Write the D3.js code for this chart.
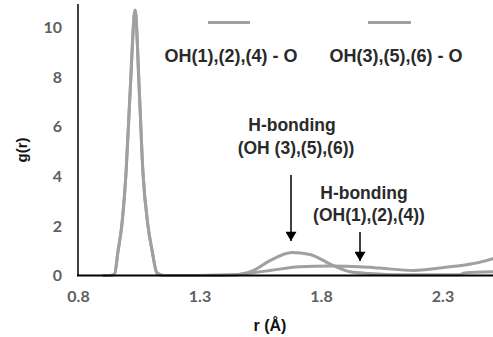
<!DOCTYPE html>
<html>
<head>
<meta charset="utf-8">
<script src="https://cdn.jsdelivr.net/npm/d3@7"></script>
<style>
  html, body { margin: 0; padding: 0; background: #fff; }
  svg { display: block; }
</style>
</head>
<body>
<svg id="chart" width="493" height="337"></svg>
<script>
// ---- data ----
const xTicks = [0.8, 1.3, 1.8, 2.3];
const yTicks = [0, 2, 4, 6, 8, 10];
const seriesNames = ["OH(1),(2),(4) - O", "OH(3),(5),(6) - O"];

// OH(1),(2),(4) - O : r, g(r)
const s1R = [0.90, 0.93, 0.95, 0.965, 0.98, 0.998, 1.015, 1.035, 1.052, 1.067, 1.088, 1.105, 1.125, 1.15, 1.30, 1.45, 1.51, 1.59, 1.71, 1.84, 1.96, 2.04, 2.18, 2.33, 2.41, 2.48, 2.52];
const s1G = [0, 0, 0.05, 1.0, 2.0, 4.2, 7.5, 10.7, 7.5, 4.2, 2.0, 1.0, 0.1, 0, 0, 0.02, 0.1, 0.2, 0.35, 0.38, 0.35, 0.3, 0.2, 0.35, 0.45, 0.6, 0.72];

// OH(3),(5),(6) - O : r, g(r)
const s2R = [0.90, 0.93, 0.95, 0.965, 0.98, 0.998, 1.015, 1.035, 1.052, 1.067, 1.088, 1.105, 1.125, 1.15, 1.30, 1.44, 1.52, 1.59, 1.68, 1.755, 1.84, 1.92, 2.00, 2.13, 2.37, 2.39, 2.52];
const s2G = [0, 0, 0.05, 1.0, 2.0, 4.2, 7.5, 10.7, 7.5, 4.2, 2.0, 1.0, 0.1, 0, 0, 0.03, 0.2, 0.6, 0.93, 0.85, 0.45, 0.15, 0.08, 0.03, 0.03, 0.1, 0.15];

const annLines1 = ["H-bonding", "(OH (3),(5),(6))"];
const annLines2 = ["H-bonding", "(OH(1),(2),(4))"];

// ---- scales ----
const svg = d3.select("#chart");
const x = d3.scaleLinear().domain([0.8, 1.3]).range([78, 199.5]);
const y = d3.scaleLinear().domain([0, 10]).range([275.5, 27.5]);

const line = d3.line().x(d => x(d[0])).y(d => y(d[1])).curve(d3.curveMonotoneX);

const FONT = "'Liberation Sans', Arial, sans-serif";
const TICKFONT = "Lato, 'Liberation Sans', sans-serif";

// series
const series = [d3.zip(s1R, s1G), d3.zip(s2R, s2G)];
svg.append("g").selectAll("path").data(series).join("path")
  .attr("d", line)
  .attr("fill", "none")
  .attr("stroke", "#a0a0a0")
  .attr("stroke-width", 3)
  .attr("stroke-linejoin", "round");

// axes
const yAxis = d3.axisLeft(y).tickValues(yTicks).tickSize(0).tickPadding(16);
const gy = svg.append("g").attr("transform", "translate(78,0)").call(yAxis);
gy.select(".domain").remove();
gy.selectAll("text").attr("font-family", TICKFONT)
  .attr("font-size", 16).attr("font-weight", "bold").attr("fill", "#5f5f5f");
svg.append("line").attr("x1", 78).attr("x2", 78).attr("y1", 4).attr("y2", y(0))
  .attr("stroke", "#000").attr("stroke-width", 1.5);

const xAxis = d3.axisBottom(x).tickValues(xTicks).tickSize(0).tickPadding(15).tickFormat(d3.format(".1f"));
const gx = svg.append("g").attr("transform", `translate(0,${y(0)})`).call(xAxis);
gx.select(".domain").remove();
gx.selectAll("text").attr("font-family", TICKFONT)
  .attr("font-size", 16).attr("font-weight", "bold").attr("fill", "#5f5f5f");
svg.append("line").attr("x1", 77).attr("x2", 493).attr("y1", y(0)).attr("y2", y(0))
  .attr("stroke", "#000").attr("stroke-width", 2);

// axis titles
svg.append("text").attr("x", 270).attr("y", 331).attr("text-anchor", "middle")
  .attr("font-family", FONT).attr("font-size", 16)
  .attr("font-weight", "bold").attr("fill", "#111").text("r (Å)");
svg.append("text").attr("transform", "translate(27,150) rotate(-90)").attr("text-anchor", "middle")
  .attr("font-family", FONT).attr("font-size", 15)
  .attr("font-weight", "bold").attr("fill", "#111").text("g(r)");

// legend
const legend = [
  { name: seriesNames[0], x1: 208, x2: 250, tx: 231 },
  { name: seriesNames[1], x1: 368, x2: 411, tx: 396 }
];
const lg = svg.append("g");
lg.selectAll("line").data(legend).join("line")
  .attr("x1", d => d.x1).attr("x2", d => d.x2).attr("y1", 22.5).attr("y2", 22.5)
  .attr("stroke", "#a0a0a0").attr("stroke-width", 3);
lg.selectAll("text").data(legend).join("text")
  .attr("x", d => d.tx).attr("y", 61.5).attr("text-anchor", "middle")
  .attr("font-family", FONT).attr("font-size", 18).attr("font-weight", "bold")
  .attr("fill", "#2a2a2a").text(d => d.name);

// annotations
svg.append("defs").append("marker").attr("id", "arr")
  .attr("viewBox", "0 0 10 12").attr("refX", 10).attr("refY", 6)
  .attr("markerWidth", 12).attr("markerHeight", 11).attr("markerUnits", "userSpaceOnUse")
  .attr("orient", "auto")
  .append("path").attr("d", "M0,0 L10,6 L0,12 Z").attr("fill", "#000");

function annText(g, txt, cx, base) {
  g.append("text").attr("x", cx).attr("y", base).attr("text-anchor", "middle")
    .attr("font-family", FONT).attr("font-size", 17.5).attr("font-weight", "bold")
    .attr("fill", "#2a2a2a").text(txt);
}
const ann1 = svg.append("g");
annText(ann1, annLines1[0], 292, 131);
annText(ann1, annLines1[1], 296, 154);
ann1.append("line").attr("x1", 291).attr("x2", 291)
  .attr("y1", 175).attr("y2", 241).attr("stroke", "#000").attr("stroke-width", 1.5)
  .attr("marker-end", "url(#arr)");

const ann2 = svg.append("g");
annText(ann2, annLines2[0], 364, 199);
annText(ann2, annLines2[1], 369, 221);
ann2.append("line").attr("x1", 360).attr("x2", 360)
  .attr("y1", 232).attr("y2", 261).attr("stroke", "#000").attr("stroke-width", 1.5)
  .attr("marker-end", "url(#arr)");
</script>
</body>
</html>
